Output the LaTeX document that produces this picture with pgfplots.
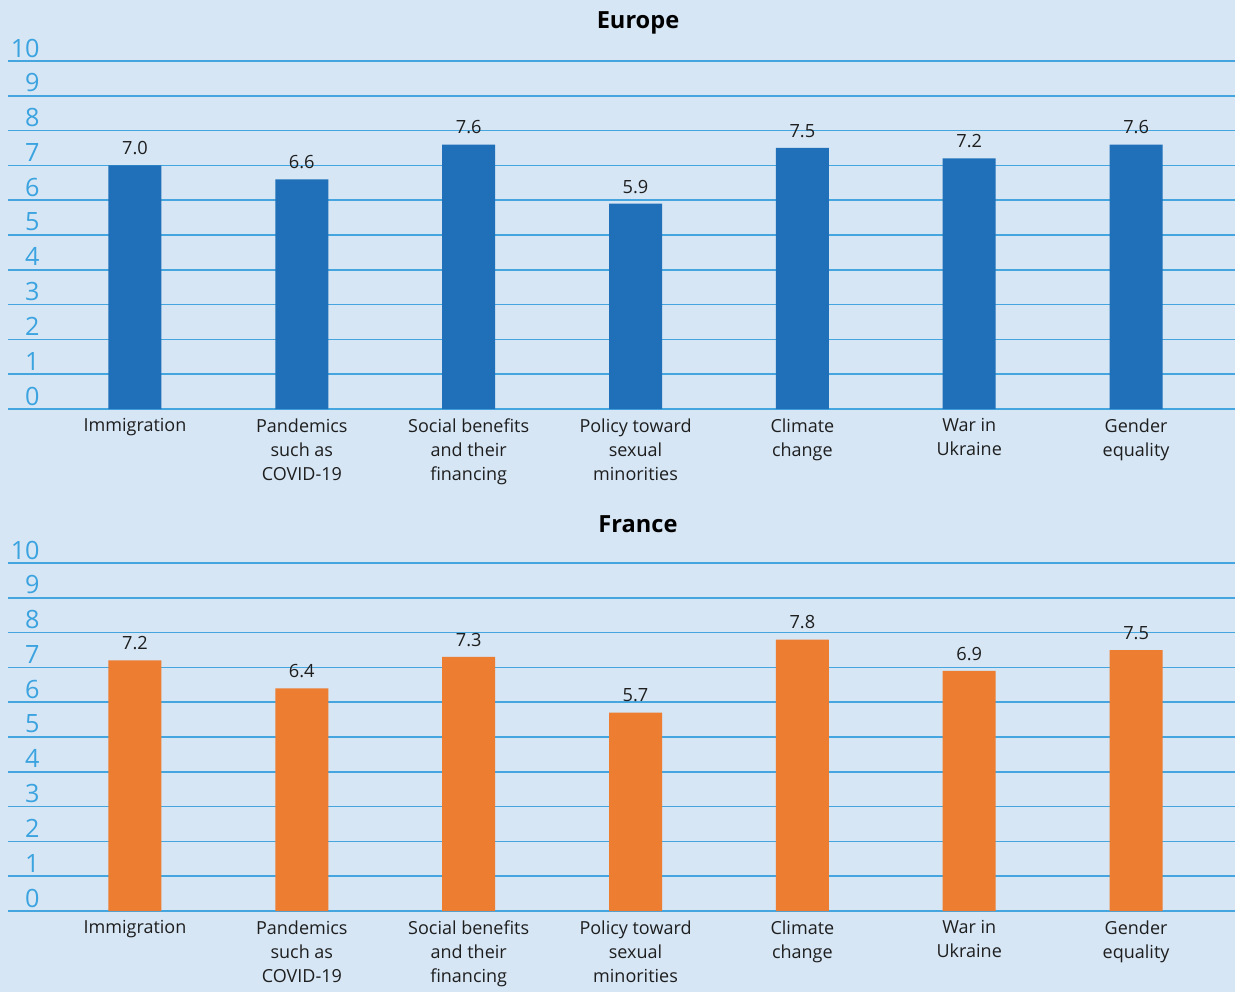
\documentclass[border=0pt]{standalone}
\usepackage{pgfplots}
\usepackage{pgfplotstable}
\pgfplotsset{compat=1.18}
\usepackage{fontspec}
\setmainfont{Open Sans}

\definecolor{bgblue}{HTML}{D6E6F5}
\definecolor{gridblue}{HTML}{45A5DF}
\definecolor{ticktext}{HTML}{3BA3DF}
\definecolor{barblue}{HTML}{1F70B8}
\definecolor{barorange}{HTML}{ED7D31}
\definecolor{labeltext}{HTML}{1E1E1E}

% Average scores (0-10) per topic
\pgfplotstableread{
x score
0 7.0
1 6.6
2 7.6
3 5.9
4 7.5
5 7.2
6 7.6
}\europe
\pgfplotstableread{
x score
0 7.2
1 6.4
2 7.3
3 5.7
4 7.8
5 6.9
6 7.5
}\france

\pgfplotsset{
  panel/.style={
    anchor=south west,
    scale only axis,
    width=613.5pt, height=174pt,
    xmin=-0.761, xmax=6.593,
    ymin=0, ymax=10,
    ytick={0,...,10},
    xtick=data,
    xticklabels={Immigration,{Pandemics\\such as\\COVID-19},{Social benefits\\and their\\financing},{Policy toward\\sexual\\minorities},{Climate\\change},{War in\\Ukraine},{Gender\\equality}},
    axis line style={draw=none},
    major tick length=0pt,
    ymajorgrids,
    grid style={gridblue, line width=0.75pt},
    /pgf/number format/assume math mode=true,
    yticklabel style={font=\fontsize{12.6}{14}\selectfont, text=ticktext, anchor=east, inner sep=0pt, xshift=16pt, yshift=6.5pt},
    xticklabel style={font=\fontsize{9}{12}\selectfont, text=labeltext, align=center, inner sep=0pt, yshift=-4.5pt},
    ybar, bar width=26.5pt,
    nodes near coords={\pgfmathprintnumber[fixed,fixed zerofill,precision=1]{\pgfplotspointmeta}},
    every node near coord/.append style={font=\fontsize{9.1}{12}\selectfont, text=labeltext, anchor=south, inner sep=0pt, yshift=5pt},
    clip=false,
  }
}

\begin{document}
\begin{tikzpicture}[x=1pt,y=1pt]
\fill[bgblue] (0,0) rectangle (617.5,496);
\path[use as bounding box] (0,0) rectangle (617.5,496);

\begin{axis}[panel, at={(4pt,291.5pt)}]
\addplot[fill=barblue, draw=none] table[x=x, y=score] {\europe};
\end{axis}
\node[font=\fontsize{11.8}{14}\selectfont\bfseries, text=black] at (319,484.5) {Europe};

\begin{axis}[panel, at={(4pt,40.5pt)}]
\addplot[fill=barorange, draw=none] table[x=x, y=score] {\france};
\end{axis}
\node[font=\fontsize{11.8}{14}\selectfont\bfseries, text=black] at (319,234) {France};
\end{tikzpicture}
\end{document}
